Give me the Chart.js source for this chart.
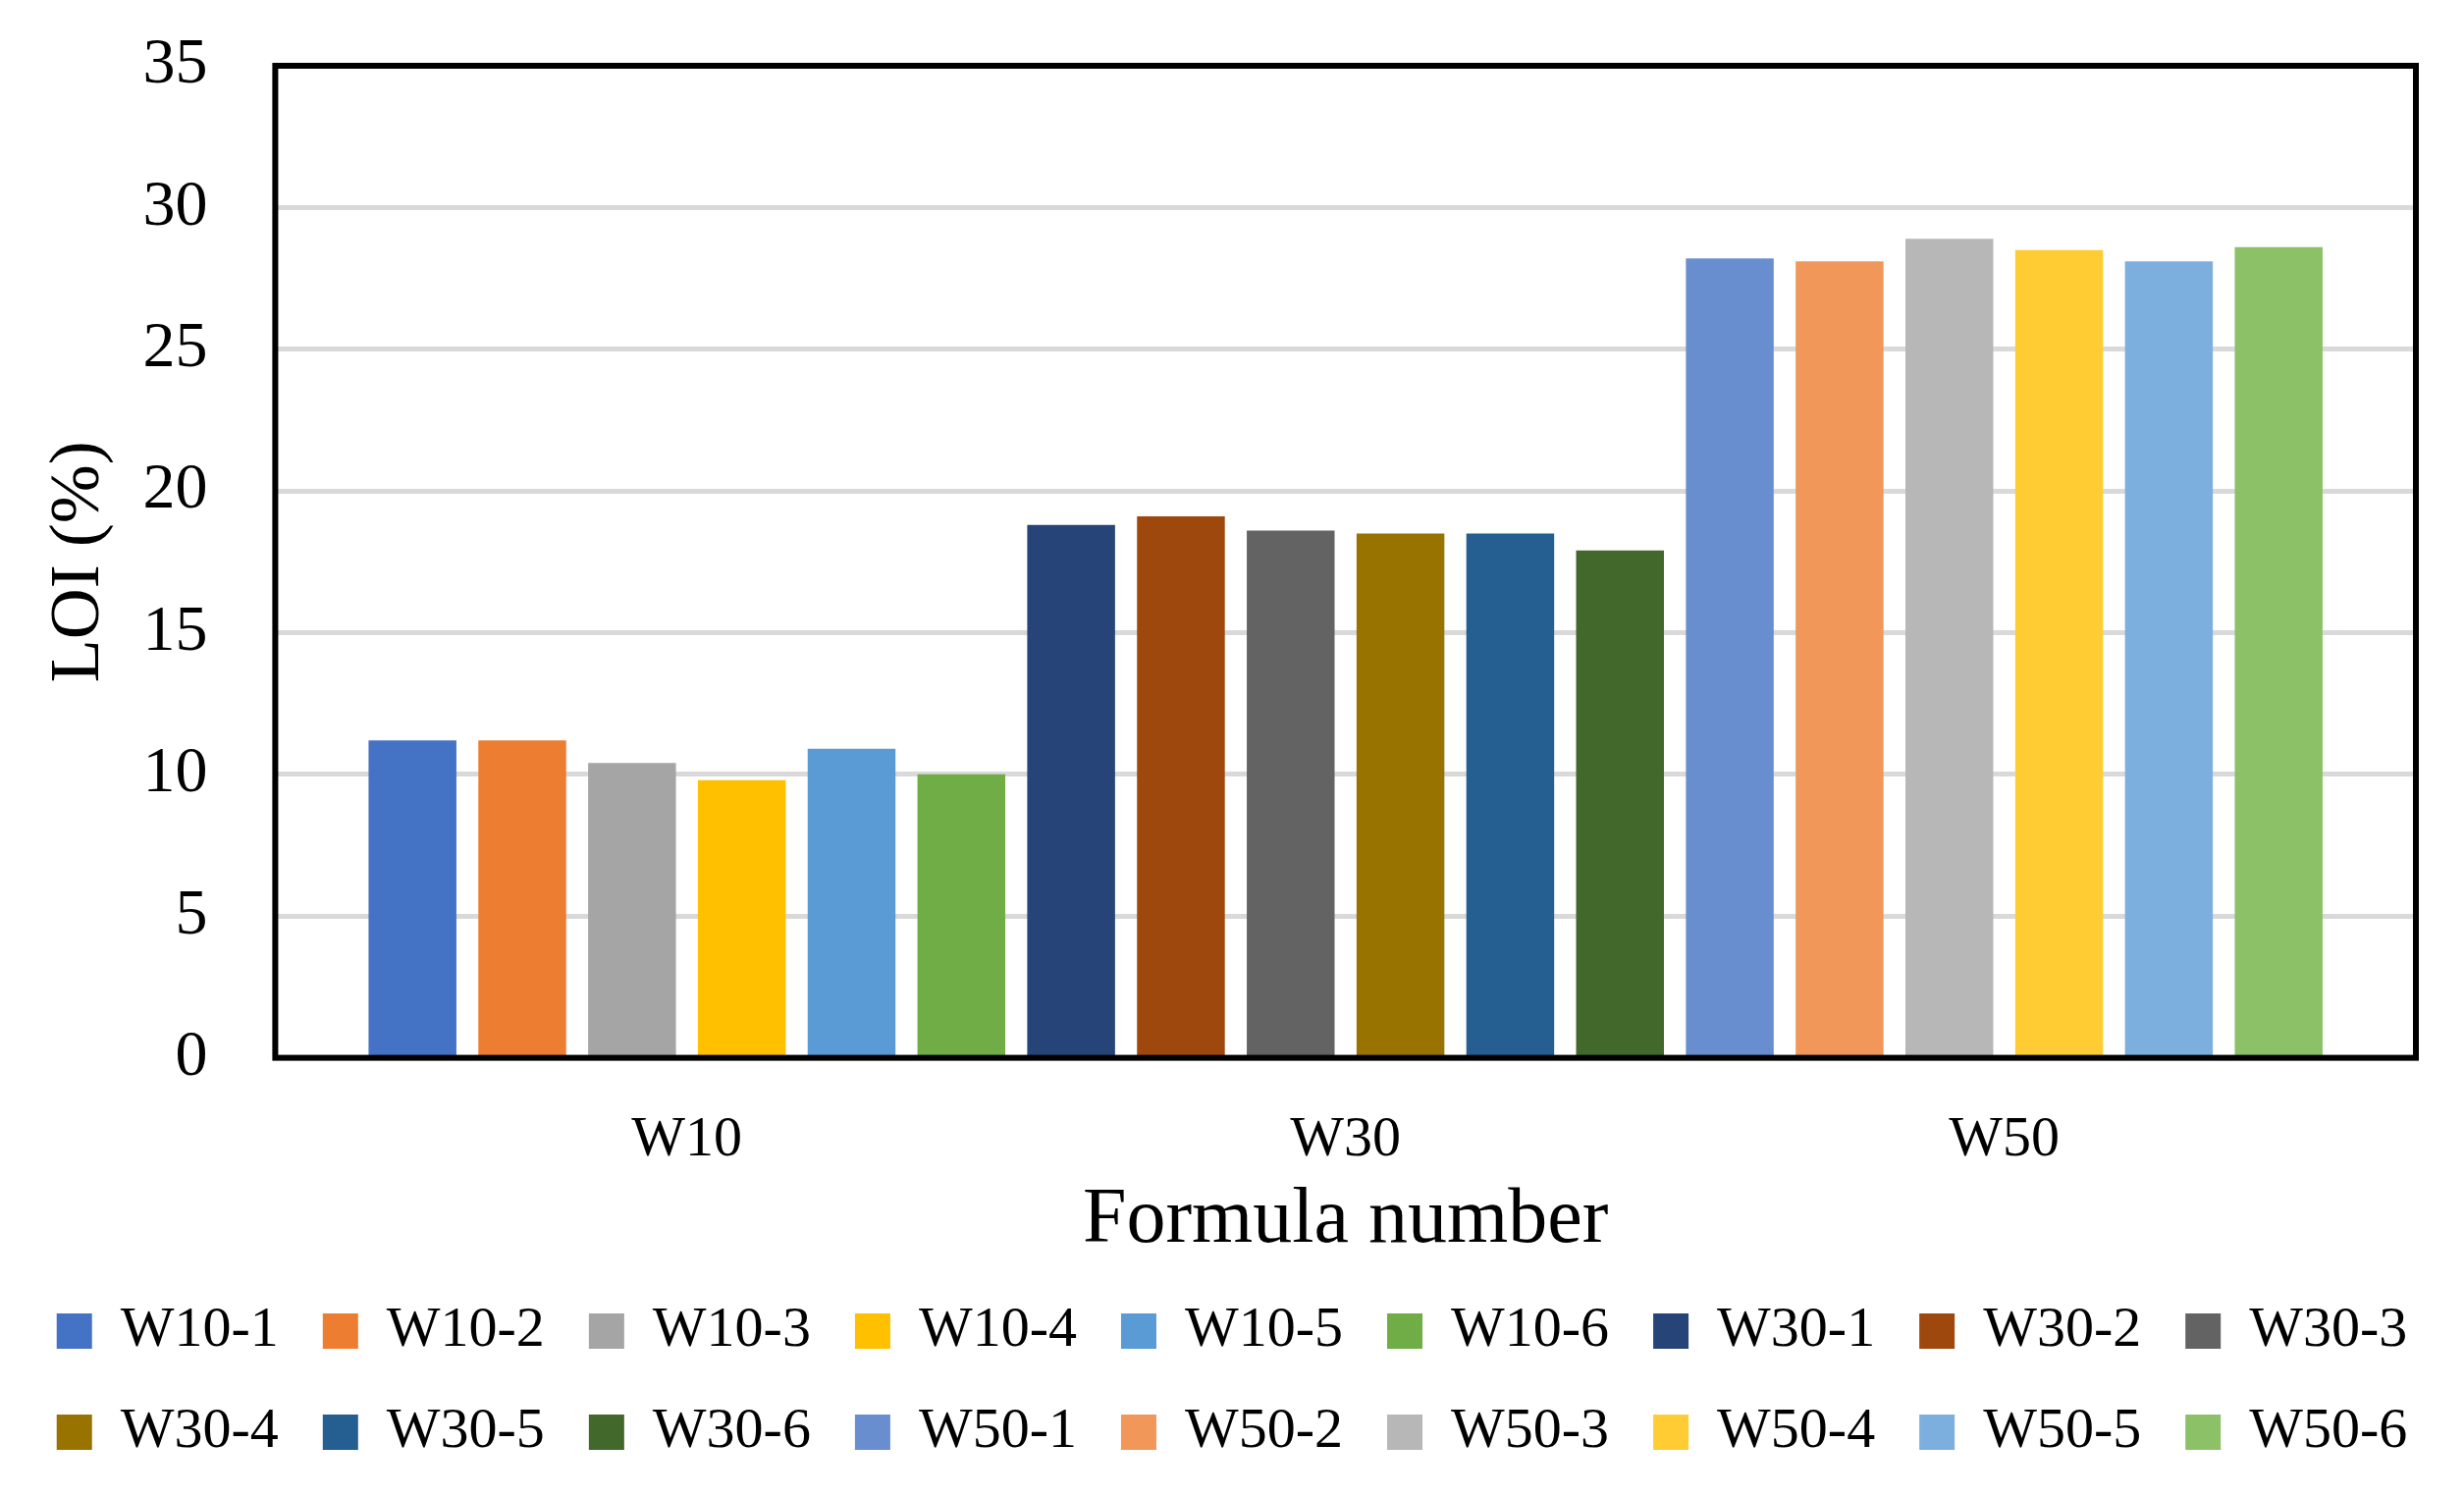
<!DOCTYPE html>
<html>
<head>
<meta charset="utf-8">
<script src="https://cdn.jsdelivr.net/npm/chart.js@4.4.1/dist/chart.umd.min.js"></script>
<style>
  html, body { margin: 0; padding: 0; background: #fff; }
  #wrap { width: 2510px; height: 1525px; }
</style>
</head>
<body>
<div id="wrap"><canvas id="loiChart"></canvas></div>
<script>
const groups = ['W10', 'W30', 'W50']
const formulas = [
  'W10-1', 'W10-2', 'W10-3', 'W10-4', 'W10-5', 'W10-6',
  'W30-1', 'W30-2', 'W30-3', 'W30-4', 'W30-5', 'W30-6',
  'W50-1', 'W50-2', 'W50-3', 'W50-4', 'W50-5', 'W50-6'
]
const loi = [
  11.2, 11.2, 10.4, 9.8, 10.9, 10.0,
  18.8, 19.1, 18.6, 18.5, 18.5, 17.9,
  28.2, 28.1, 28.9, 28.5, 28.1, 28.6
]
const colors = [
  '#4472C4', '#ED7D31', '#A5A5A5', '#FFC000', '#5B9BD5', '#70AD47',
  '#264478', '#9E480E', '#636363', '#997300', '#255E91', '#43682B',
  '#698ED0', '#F1975A', '#B7B7B7', '#FFCD33', '#7CAFDD', '#8CC168'
]
const yTicks = [0, 5, 10, 15, 20, 25, 30, 35]

const FONT = "'Palatino Linotype', 'Book Antiqua', Palatino, 'Liberation Serif', serif"
const perGroup = formulas.length / groups.length

// black frame round the plot area
const frame = {
  id: 'frame',
  afterDraw(chart) {
    const {ctx, chartArea: a} = chart
    ctx.save()
    ctx.strokeStyle = '#000'
    ctx.lineWidth = 6
    ctx.strokeRect(a.left, a.top, a.right - a.left, a.bottom - a.top)
    ctx.restore()
  }
}

const datasets = formulas.map((name, i) => ({
  label: name,
  data: [{x: i + 1, y: loi[i]}],
  backgroundColor: colors[i],
  borderWidth: 0,
  grouped: false,
  barPercentage: 0.8,
  categoryPercentage: 1
}))

new Chart(document.getElementById('loiChart'), {
  type: 'bar',
  data: {datasets: datasets},
  options: {
    responsive: true,
    maintainAspectRatio: false,
    animation: false,
    devicePixelRatio: 1,
    layout: {padding: {top: 67, right: 0, bottom: 27, left: 0}},
    plugins: {
      tooltip: {enabled: false},
      legend: {
        position: 'bottom',
        labels: {
          color: '#000',
          font: {family: FONT, size: 58},
          boxWidth: 36,
          boxHeight: 36,
          padding: 45
        }
      }
    },
    scales: {
      x: {
        type: 'linear',
        offset: false,
        min: -0.25,
        max: 19.25,
        grid: {display: false, drawTicks: true, tickLength: 40},
        border: {display: false},
        afterBuildTicks: (axis) => {
          axis.ticks = groups.map((g, i) => ({value: i * perGroup + (perGroup + 1) / 2}))
        },
        ticks: {
          color: '#000',
          font: {family: FONT, size: 58},
          padding: 9,
          maxRotation: 0,
          autoSkip: false,
          callback: (v) => groups[Math.round((v - (perGroup + 1) / 2) / perGroup)]
        },
        title: {
          display: true,
          text: 'Formula number',
          color: '#000',
          font: {family: FONT, size: 80, lineHeight: 0.96},
          padding: {top: 0, bottom: 0}
        }
      },
      y: {
        min: 0,
        max: 35,
        grid: {
          color: '#D9D9D9',
          lineWidth: 5,
          drawTicks: true,
          tickLength: 60,
          tickColor: 'rgba(0,0,0,0)'
        },
        border: {display: false},
        afterBuildTicks: (axis) => {
          axis.ticks = yTicks.map(v => ({value: v}))
        },
        ticks: {
          color: '#000',
          font: {family: FONT, size: 66},
          padding: 9
        },
        title: {
          display: true,
          text: 'LOI (%)',
          color: '#000',
          font: {family: FONT, size: 72},
          padding: {top: 38, bottom: 12}
        }
      },
      // empty right axis, only keeps the margin right of the plot
      yRight: {
        position: 'right',
        display: true,
        grid: {display: false, drawTicks: true, tickLength: 49},
        border: {display: false},
        ticks: {display: false}
      }
    }
  },
  plugins: [frame]
})
</script>
</body>
</html>
